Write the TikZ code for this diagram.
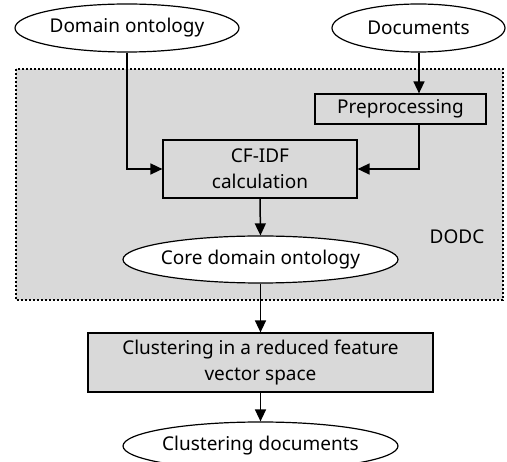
\documentclass[tikz,border=0pt]{standalone}
\usepackage{fontspec}
\setmainfont{Noto Sans}
\usetikzlibrary{arrows.meta,shapes.geometric}
\definecolor{boxgray}{RGB}{217,217,217}
\begin{document}
\begin{tikzpicture}[x=1pt,y=-1pt,
  every node/.style={font=\fontsize{19}{26}\selectfont},
  oval/.style={draw,ellipse,fill=white,line width=1.2pt,inner sep=0pt},
  procbox/.style={draw,rectangle,fill=boxgray,line width=1.2pt,inner sep=0pt,align=center},
  conn/.style={line width=1.5pt,-{Triangle[length=12pt,width=11pt]}}]
\useasboundingbox (0,0) rectangle (507,462);
\fill[white] (0,0) rectangle (507,462);
% DODC region
\draw[fill=boxgray,line width=2.6pt,dash pattern=on 2.4pt off 1.6pt] (16,69) rectangle (503,300);
\node (dodc) at (457,237) {DODC};
% nodes
\node[oval,minimum width=224pt,minimum height=48pt] (dom) at (127,28) {\makebox[0pt]{Domain ontology}};
\node[oval,minimum width=173pt,minimum height=48pt] (docs) at (418.5,28) {\makebox[0pt]{Documents}};
\node[procbox,minimum width=171pt,minimum height=30pt] (pre) at (400.5,109) {Preprocessing};
\node[procbox,minimum width=194pt,minimum height=58pt] (cf) at (260,169) {CF-IDF\\calculation};
\node[oval,minimum width=275pt,minimum height=47pt] (core) at (260.5,259.5) {\makebox[0pt]{Core domain ontology}};
\node[procbox,minimum width=345pt,minimum height=59pt] (clu) at (260.5,362.5) {Clustering in a reduced feature\\vector space};
\node[oval,minimum width=275pt,minimum height=48pt] (cdocs) at (260.5,446) {\makebox[0pt]{Clustering documents}};
% connectors
\draw[conn] (dom.south) |- (cf.west);
\draw[conn] (docs.south -| pre.north) ++(18.5,0) coordinate (dtop) -- (dtop |- pre.north);
\draw[conn] (pre.south -| dtop) |- (cf.east);
\draw[conn] (cf.south) -- (core.north);
\draw[conn] (core.south) -- (clu.north);
\draw[conn] (clu.south) -- (cdocs.north);
\end{tikzpicture}
\end{document}
